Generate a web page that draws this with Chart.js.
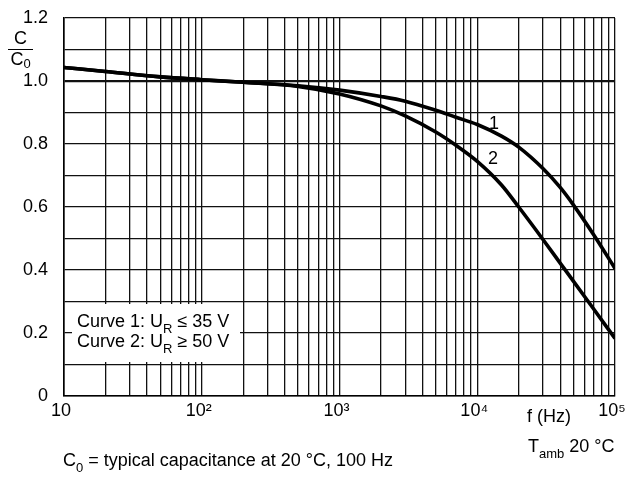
<!DOCTYPE html>
<html>
<head>
<meta charset="utf-8">
<script src="https://cdn.jsdelivr.net/npm/chart.js@4/dist/chart.umd.min.js"></script>
<style>
  html, body { margin: 0; padding: 0; background: #fff; }
  #wrap { position: relative; width: 635px; height: 478px; }
  .ytitle { position: absolute; left: 8px; top: 29px; width: 25px; font: 18px 'Liberation Sans', Arial, sans-serif; color: #000; text-align: center; line-height: 19px; }
  .ytitle .num { border-bottom: 1.5px solid #000; padding-bottom: 1px; }
  .ytitle sub { font-size: 13px; line-height: 0; vertical-align: -3px; }
</style>
</head>
<body>
<div id="wrap"><canvas id="c"></canvas>
  <div class="ytitle"><div class="num">C</div><div>C<sub>0</sub></div></div>
</div>
<script>
// ---- data ----
const frequencies = [10, 20, 50, 100, 200, 500, 1000, 2000, 3000, 5000, 7000, 10000, 15000, 20000, 30000, 40000, 50000, 70000, 100000];
const curve1 = [1.043, 1.030, 1.013, 1.004, 0.996, 0.985, 0.971, 0.951, 0.936, 0.907, 0.885, 0.862, 0.825, 0.790, 0.722, 0.662, 0.606, 0.512, 0.405];
const curve2 = [1.043, 1.030, 1.013, 1.004, 0.996, 0.983, 0.959, 0.921, 0.889, 0.838, 0.796, 0.745, 0.670, 0.600, 0.497, 0.422, 0.364, 0.276, 0.183];
const decades = [10, 100, 1000, 10000, 100000];
const decadeLabels = ['10', '10\u00B2', '10\u00B3', '10\u2074', '10\u2075'];
const multipliers = [1, 2, 3, 4, 5, 6, 7, 8, 9];
const yMin = 0, yMax = 1.2, yStep = 0.1;

const FONT = "'Liberation Sans', Arial, Helvetica, sans-serif";
const FS = 18;

const xTickValues = [];
decades.forEach((d, i) => {
  if (i === decades.length - 1) { xTickValues.push(d); return; }
  multipliers.forEach(m => xTickValues.push(d * m));
});

function pts(ys) { return frequencies.map((f, i) => ({ x: f, y: ys[i] })); }

function drawParts(ctx, parts, x, y) {
  let cx = x;
  parts.forEach(p => {
    const size = p.sub ? 13 : FS;
    ctx.font = size + 'px ' + FONT;
    const dy = p.sub ? 6 : 0;
    ctx.fillText(p.t, cx, y + dy);
    cx += ctx.measureText(p.t).width;
  });
}

const annotations = {
  id: 'annotations',
  afterDraw(chart) {
    const ctx = chart.ctx;
    ctx.save();
    ctx.fillStyle = '#000';
    ctx.textBaseline = 'alphabetic';
    ctx.textAlign = 'left';

    // legend box
    ctx.fillStyle = '#fff';
    ctx.fillRect(72, 304, 168, 58);
    ctx.fillStyle = '#000';
    drawParts(ctx, [{ t: 'Curve 1: U' }, { t: 'R', sub: true }, { t: ' \u2264 35 V' }], 77, 327);
    drawParts(ctx, [{ t: 'Curve 2: U' }, { t: 'R', sub: true }, { t: ' \u2265 50 V' }], 77, 347);

    // curve labels
    ctx.font = FS + 'px ' + FONT;
    ctx.fillText('1', 489, 129);
    ctx.fillText('2', 488, 164);

    // x-axis title and temperature
    ctx.fillText('f (Hz)', 527, 422);
    drawParts(ctx, [{ t: 'T' }, { t: 'amb', sub: true }, { t: ' 20 \u00B0C' }], 528, 452);

    // footnote
    drawParts(ctx, [{ t: 'C' }, { t: '0', sub: true }, { t: ' = typical capacitance at 20 \u00B0C, 100 Hz' }], 63, 466);
    ctx.restore();
  }
};

new Chart(document.getElementById('c'), {
  type: 'scatter',
  data: {
    datasets: [
      { label: 'Curve 1', data: pts(curve1), showLine: true, borderColor: '#000', borderWidth: 3.6, pointRadius: 0, cubicInterpolationMode: 'monotone' },
      { label: 'Curve 2', data: pts(curve2), showLine: true, borderColor: '#000', borderWidth: 3.6, pointRadius: 0, cubicInterpolationMode: 'monotone' }
    ]
  },
  options: {
    responsive: true,
    maintainAspectRatio: false,
    animation: false,
    layout: { padding: { top: 18, right: 20, left: 0, bottom: 0 } },
    plugins: { legend: { display: false }, tooltip: { enabled: false } },
    scales: {
      x: {
        type: 'logarithmic',
        min: 10, max: 100000,
        afterBuildTicks(scale) { scale.ticks = xTickValues.map(v => ({ value: v })); },
        afterFit(scale) { scale.height = 82; scale.paddingLeft = 0; scale.paddingRight = 0; },
        grid: { color: '#111', lineWidth: 1.3, drawTicks: false },
        border: { color: '#000', width: 1.6 },
        ticks: {
          autoSkip: false, maxRotation: 0, padding: 4, labelOffset: -3,
          color: '#000', font: { family: FONT, size: FS },
          callback(v) { const i = decades.indexOf(v); return i >= 0 ? decadeLabels[i] : ''; }
        }
      },
      y: {
        min: yMin, max: yMax,
        afterFit(scale) { scale.width = 64; scale.paddingTop = 0; scale.paddingBottom = 0; },
        grid: {
          color: '#111', drawTicks: false,
          lineWidth(c) { return Math.abs(c.tick.value - 1) < 1e-6 ? 2.2 : 1.3; }
        },
        border: { color: '#000', width: 1.6 },
        ticks: {
          stepSize: yStep, padding: 16, color: '#000', font: { family: FONT, size: FS },
          callback(v) {
            const n = Math.round(v * 10);
            if (n % 2 !== 0) return '';
            return n === 0 ? '0' : (n / 10).toFixed(1);
          }
        }
      }
    }
  },
  plugins: [annotations]
});
</script>
</body>
</html>
